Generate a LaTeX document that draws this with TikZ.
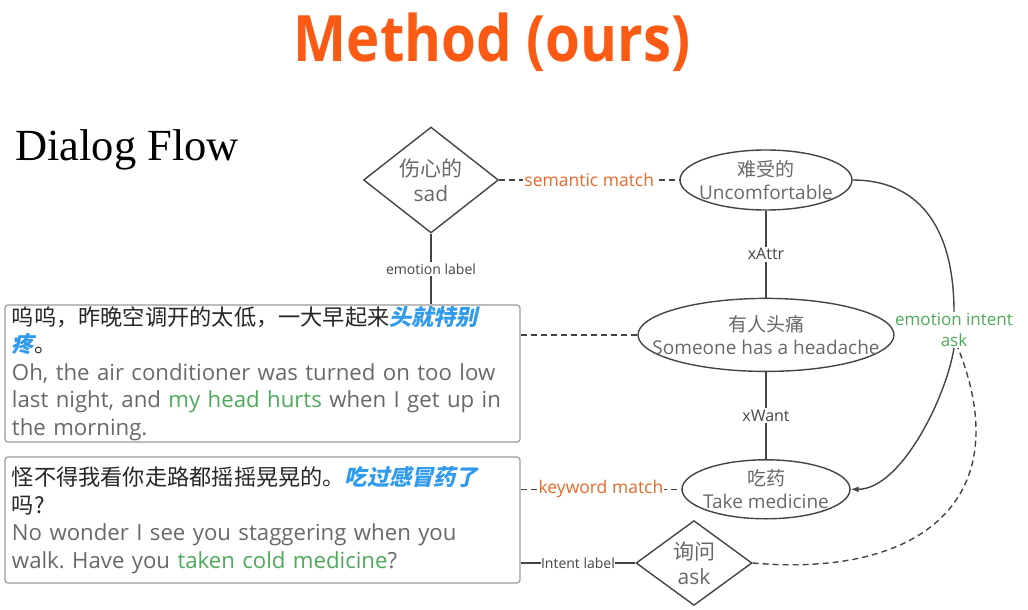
\documentclass[tikz,border=0pt]{standalone}
\usepackage{fontspec}
\setmainfont{Open Sans}
\newfontfamily\cjk{Noto Sans CJK SC}
\newfontfamily\cjkslant{Noto Sans CJK SC}[FakeSlant=0.22]
\newfontfamily\headserif{Liberation Serif}
\usetikzlibrary{arrows.meta,positioning,shapes.geometric}
\definecolor{titleorange}{HTML}{FA5A14}
\definecolor{matchorange}{HTML}{E8692A}
\definecolor{hlblue}{HTML}{2F9AEE}
\definecolor{hlgreen}{HTML}{4EAA5A}
\definecolor{txtgray}{HTML}{686868}
\definecolor{linegray}{HTML}{444444}
\newcommand{\zh}[1]{{\cjk #1}}
\newcommand{\hlzh}[1]{{\cjkslant\bfseries\color{hlblue}#1}}
\newcommand{\hlen}[1]{{\color{hlgreen}#1}}
\newcommand{\fs}[2]{\fontsize{#1}{#2}\selectfont}
\frenchspacing

\begin{document}
\begin{tikzpicture}[x=1pt, y=-1pt,
  node distance=87pt,
  concept/.style={ellipse, draw=linegray, line width=1.4pt, inner sep=0pt},
  conceptlbl/.style={align=center, text=txtgray, inner sep=0pt, font=\fs{19}{23}},
  tag/.style={diamond, draw=linegray, line width=1.4pt, align=center, text=txtgray, inner sep=0pt, font=\fs{21}{25}},
  utter/.style={draw=black!40, line width=1.2pt, rounded corners=3pt, text width=501pt, align=left,
    inner xsep=7pt, inner ysep=0pt, font=\fs{22.2}{27.6}, text=txtgray},
  rel/.style={fill=white, inner sep=1.5pt, text=linegray},
  link/.style={draw=linegray, line width=1.4pt},
  matchlink/.style={draw=linegray, line width=1.4pt, dash pattern=on 6pt off 4pt},
  matchlbl/.style={fill=white, inner sep=1pt, text=matchorange, font=\fs{17.5}{20}},
  arr/.style={-{Latex[length=8pt,width=6pt]}}]
\useasboundingbox (0,0) rectangle (1028,610);

% headings
\node[anchor=base, inner sep=0pt, text=titleorange, font=\fs{64}{70}\bfseries] (title) at (492,62) {\scalebox{0.88}[1]{Method (ours)}};
\node[anchor=base west, inner sep=0pt, font=\headserif\fs{44.5}{48}] (flow) at (15,160) {Dialog Flow};

% knowledge nodes
\node[concept, minimum width=172pt, minimum height=60pt,
  label={[conceptlbl, font=\fs{19}{22.5}]center:\zh{难受的}\\Uncomfortable}] (unc) at (766,180) {};
\node[concept, below=of unc, minimum width=256pt, minimum height=73pt,
  label={[conceptlbl]center:\zh{有人头痛}\\Someone has a headache}] (head) {};
\node[concept, below=of head, minimum width=168pt, minimum height=59pt,
  label={[conceptlbl]center:\zh{吃药}\\Take medicine}] (med) {};
\node[tag, minimum width=135pt, minimum height=84pt] (sad) at (431,180) {\zh{伤心的}\\sad};
\node[tag, minimum width=116pt, minimum height=78pt] (ask) at (694,563) {\zh{询问}\\ask};
\node[inner sep=1pt, align=center, text=hlgreen, font=\fs{17}{21}] (eia) at (954,330) {emotion intent\\ask};

% utterances
\node[utter, minimum height=137pt] (utt1) at (262.5,373.5) {{\color{black!85}\zh{呜呜，昨晚空调开的太低，一大早起来}\hlzh{头就特别}}\\
  {\color{black!85}\hlzh{疼}\zh{。}}\\
  Oh, the air conditioner was turned on too low\\
  last night, and \hlen{my head hurts} when I get up in\\
  the morning.};
\node[utter, minimum height=126pt] (utt2) at (262.5,520) {{\color{black!85}\zh{怪不得我看你走路都摇摇晃晃的。}\hlzh{吃过感冒药了}}\\
  {\color{black!85}\zh{吗?}}\\
  No wonder I see you staggering when you\\
  walk. Have you \hlen{taken cold medicine}?};

% relations
\path[link] (unc) -- node[rel, font=\fs{16}{18}] {xAttr} (head);
\path[link] (head) -- node[rel, font=\fs{16}{18}] {xWant} (med);
\path[link] (sad.south) -- node[rel, font=\fs{14}{16}] {emotion label} (sad.south |- utt1.north);
\path[link] (ask.west -| utt2.east) -- node[rel, inner sep=0.5pt, font=\fs{14}{16}] {Intent label} (ask.west);
\path[matchlink] (sad.east) -- node[matchlbl] {semantic match} (unc.west);
\path[matchlink] (med.west -| utt2.east) -- node[matchlbl] {keyword match} (med.west);
\path[matchlink] (head.west -| utt1.east) -- (head.west);
\path[link] (unc.east) .. controls +(62,0) and +(0,-90) .. (eia.north);
\path[link, arr] (eia.south) .. controls +(-8,50) and +(50,0) .. (med.east);
\path[matchlink] (ask.east) .. controls +(170,15) and +(60,150) .. ([xshift=4pt]eia.south);
\end{tikzpicture}
\end{document}
